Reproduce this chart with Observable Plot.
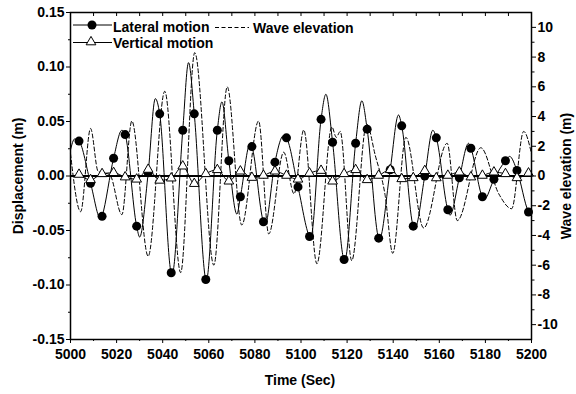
<!DOCTYPE html>
<html><head><meta charset="utf-8">
<script src="https://cdn.jsdelivr.net/npm/d3@7"></script>
<script src="https://cdn.jsdelivr.net/npm/@observablehq/plot@0.6"></script>
<style>
body{margin:0;background:#fff;}
#wrap{width:576px;height:394px;}
</style></head><body><div id="wrap"></div>
<script>
// ---- data ----
const markerTimes = [5003.7, 5008.7, 5013.7, 5018.7, 5023.7, 5028.7, 5033.7, 5038.7, 5043.7, 5048.7,
  5053.7, 5058.7, 5063.7, 5068.7, 5073.7, 5078.7, 5083.7, 5088.7, 5093.7, 5098.7,
  5103.7, 5108.7, 5113.7, 5118.7, 5123.7, 5128.7, 5133.7, 5138.7, 5143.7, 5148.7,
  5153.7, 5158.7, 5163.7, 5168.7, 5173.7, 5178.7, 5183.7, 5188.7, 5193.7, 5198.7];
const lateralAtMarkers = [0.032, -0.0066, -0.037, 0.0163, 0.038, -0.046, 0.003, 0.057, -0.0888, 0.042,
  0.057, -0.095, 0.042, 0.014, -0.019, 0.027, -0.042, 0.0127, 0.035, -0.010,
  -0.0555, 0.052, 0.031, -0.0766, 0.030, 0.043, -0.057, 0.0057, 0.046, -0.046,
  0.0, 0.035, -0.031, -0.0017, 0.0255, -0.019, -0.003, 0.014, 0.005, -0.033];
const verticalAtMarkers = [0.0014, -0.0035, 0.002, 0.003, -0.001, -0.003, 0.006, -0.004, -0.002, 0.009,
  -0.007, 0.002, 0.0057, -0.0048, 0.0044, -0.0014, 0.0005, 0.0044, 0.0005, -0.003,
  0.0026, 0.005, -0.0048, 0.002, 0.0057, -0.0035, 0.0005, 0.0057, -0.0026, -0.0017,
  0.0048, -0.0018, 0.0005, 0.0035, -0.001, 0.0005, 0.0035, 0.002, -0.0017, 0.0026];
// lateral motion turning points between markers
const lateralPeakT = [5000, 5001.8, 5013.2, 5022.3, 5030.0, 5036.8, 5044.1, 5051.2, 5058.9, 5065.7,
  5072.2, 5078.0, 5084.4, 5092.4, 5104.2, 5110.8, 5119.0, 5126.4, 5134.0, 5142.3,
  5149.4, 5157.2, 5164.6, 5172.7, 5179.6, 5190.5, 5200];
const lateralPeakV = [0.024, 0.034, -0.040, 0.042, -0.056, 0.071, -0.090, 0.104, -0.096, 0.068,
  -0.035, 0.030, -0.045, 0.037, -0.057, 0.075, -0.077, 0.069, -0.058, 0.056,
  -0.048, 0.042, -0.036, 0.030, -0.021, 0.018, -0.037];
// wave elevation (m), right axis
const waveT = [5000, 5004.4, 5008.7, 5012, 5017, 5022.3, 5026.6, 5033.7, 5040.9, 5047.8,
  5053.9, 5062.2, 5068, 5074.3, 5081.6, 5086, 5092.5, 5097, 5101.2, 5106.9,
  5113.4, 5115.3, 5117, 5122, 5128.5, 5132.2, 5136.5, 5139.8, 5145.5, 5153.2,
  5163.4, 5167.8, 5178, 5185.8, 5191.4, 5196.6, 5200];
const waveV = [1.5, -2.4, 3.2, 0.3, 0.1, -2.6, 3.7, -5.4, 5.7, -6.5,
  8.3, -6.0, 6.0, -3.3, 3.7, -3.9, 1.6, -1.2, 3.1, -5.9,
  3.3, 2.6, 3.0, -5.7, 3.5, 1.4, -1.3, -5.2, 2.6, -3.5,
  2.2, -3.0, 1.9, -1.2, -2.2, 3.0, 1.5];
// axes
const xTicks = [5000, 5020, 5040, 5060, 5080, 5100, 5120, 5140, 5160, 5180, 5200];
const xMinor = [5010, 5030, 5050, 5070, 5090, 5110, 5130, 5150, 5170, 5190];
const yTicks = [-0.15, -0.10, -0.05, 0.00, 0.05, 0.10, 0.15];
const yMinor = [-0.125, -0.075, -0.025, 0.025, 0.075, 0.125];
const waveTicks = [-10, -8, -6, -4, -2, 0, 2, 4, 6, 8, 10];
const waveMinor = [-9, -7, -5, -3, -1, 1, 3, 5, 7, 9];
const yDomain = [-0.15, 0.15];
const waveDomain = [-11, 11];

// ---- build tables ----
const K = yDomain[1] / waveDomain[1];
const markerRows = markerTimes.map((t, i) => ({t, lat: lateralAtMarkers[i], vert: verticalAtMarkers[i]}));
const lateralRows = markerTimes.map((t, i) => ({t, v: lateralAtMarkers[i]}))
  .concat(lateralPeakT.map((t, i) => ({t, v: lateralPeakV[i]})))
  .sort((a, b) => a.t - b.t);
const waveRows = waveT.map((t, i) => ({t, w: waveV[i]}));
const xTop = xTicks.concat(xMinor).sort((a, b) => a - b);

const chart = Plot.plot({
  width: 576, height: 394,
  marginLeft: 70, marginRight: 45, marginTop: 12, marginBottom: 55,
  x: {domain: [5000, 5200]},
  y: {domain: yDomain},
  style: {fontFamily: "'Liberation Sans', Arial, sans-serif", fontSize: "14px", fontWeight: "bold", color: "black", background: "white"},
  marks: [
    Plot.ruleY([0], {stroke: "black", strokeWidth: 2}),
    Plot.line(waveRows, {x: "t", y: d => d.w * K, stroke: "black", strokeWidth: 1, strokeDasharray: "4,2.5", curve: "monotone-x"}),
    Plot.line(lateralRows, {x: "t", y: "v", stroke: "black", strokeWidth: 1, curve: "monotone-x"}),
    Plot.line(markerRows, {x: "t", y: "vert", stroke: "black", strokeWidth: 1, curve: "monotone-x"}),
    Plot.dot(markerRows, {x: "t", y: "lat", r: 4.5, fill: "black", stroke: "none"}),
    Plot.dot(markerRows, {x: "t", y: "vert", symbol: "triangle", r: 3.6, fill: "white", stroke: "black", strokeWidth: 1}),
    Plot.frame({stroke: "black", strokeWidth: 1.5}),
    Plot.axisY({anchor: "left", ticks: yTicks, tickSize: 4, tickPadding: 2, tickFormat: d => d.toFixed(2), label: null}),
    Plot.axisY({anchor: "left", ticks: yMinor, tickSize: 2, tickFormat: () => "", label: null}),
    Plot.axisX({anchor: "bottom", ticks: xTicks, tickSize: 4, tickPadding: 6, tickFormat: d => String(d), label: null}),
    Plot.axisX({anchor: "bottom", ticks: xMinor, tickSize: 2, tickFormat: () => "", label: null}),
    Plot.axisX({anchor: "top", ticks: xTop, tickSize: 3, dy: 3, tickFormat: () => "", label: null}),
    Plot.axisY({anchor: "right", ticks: waveTicks.map(w => w * K), tickSize: 4, tickPadding: 2, tickFormat: d => String(Math.round(d / K)), label: null}),
    Plot.axisY({anchor: "right", ticks: waveMinor.map(w => w * K), tickSize: 2.5, tickFormat: () => "", label: null})
  ]
});
document.getElementById("wrap").appendChild(chart);

// ---- titles and legend added into the same SVG ----
const svg = d3.select(chart);
const g = svg.append("g").attr("font-family", "'Liberation Sans', Arial, sans-serif").attr("font-size", 14).attr("font-weight", "bold").attr("fill", "black").attr("text-anchor", "middle");
g.append("text").attr("x", 300).attr("y", 385).text("Time (Sec)");
g.append("text").attr("transform", "translate(23,176) rotate(-90)").text("Displacement (m)");
g.append("text").attr("transform", "translate(571,176) rotate(-90)").text("Wave elevation (m)");

const leg = svg.append("g");
leg.append("line").attr("x1", 73).attr("x2", 112).attr("y1", 25).attr("y2", 25).attr("stroke", "black").attr("stroke-width", 1);
leg.append("circle").attr("cx", 92).attr("cy", 25).attr("r", 4.5).attr("fill", "black");
leg.append("line").attr("x1", 73).attr("x2", 112).attr("y1", 42.5).attr("y2", 42.5).attr("stroke", "black").attr("stroke-width", 1);
leg.append("path").attr("d", d3.symbol(d3.symbolTriangle, Math.PI * 3.6 * 3.6)()).attr("transform", "translate(91,42)").attr("fill", "white").attr("stroke", "black");
leg.append("line").attr("x1", 215).attr("x2", 249).attr("y1", 27.5).attr("y2", 27.5).attr("stroke", "black").attr("stroke-width", 1).attr("stroke-dasharray", "4,2.5");
const lt = leg.append("g").attr("font-family", "'Liberation Sans', Arial, sans-serif").attr("font-size", 14).attr("font-weight", "bold").attr("fill", "black").attr("text-anchor", "start");
lt.append("text").attr("x", 113).attr("y", 31.5).text("Lateral motion");
lt.append("text").attr("x", 113).attr("y", 48).text("Vertical motion");
lt.append("text").attr("x", 253).attr("y", 33).text("Wave elevation");
</script></body></html>
